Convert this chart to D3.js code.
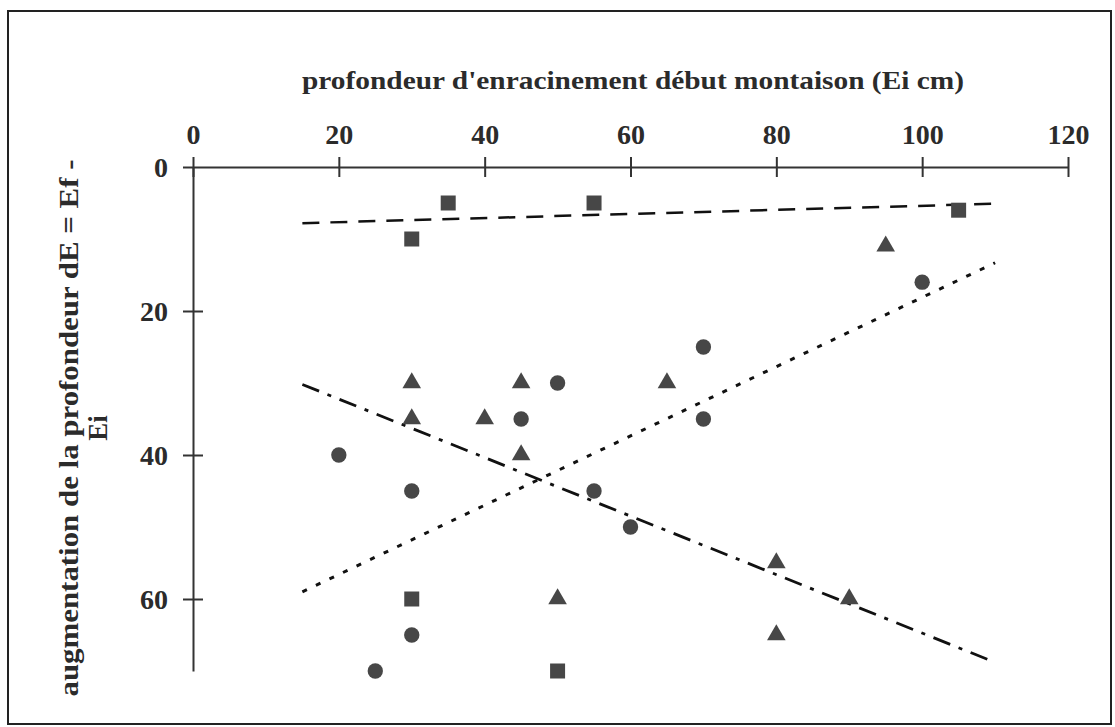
<!DOCTYPE html>
<html>
<head>
<meta charset="utf-8">
<script src="https://cdn.jsdelivr.net/npm/d3@7"></script>
<style>
  html, body { margin: 0; padding: 0; background: #fff; }
  svg { display: block; }
  text { font-family: "Liberation Serif", "DejaVu Serif", serif; font-weight: bold; fill: #2b2b2b; }
</style>
</head>
<body>
<script>
// ---- data ----
const xTicks = [0, 20, 40, 60, 80, 100, 120];
const yTicks = [0, 20, 40, 60];
const xTitle = "profondeur d'enracinement début montaison (Ei cm)";
const yTitle1 = "augmentation de la profondeur dE = Ef -";
const yTitle2 = "Ei";

const squaresX = [35, 55, 30, 105, 30, 50];
const squaresY = [5, 5, 10, 6, 60, 70];

const trianglesX = [95, 30, 45, 65, 30, 40, 45, 50, 80, 90, 80];
const trianglesY = [11, 30, 30, 30, 35, 35, 40, 60, 55, 60, 65];

const circlesX = [100, 70, 50, 45, 70, 20, 30, 55, 60, 30, 25];
const circlesY = [16, 25, 30, 35, 35, 40, 45, 45, 50, 65, 70];

// trend lines (endpoints)
const trendSquaresX = [15, 110];
const trendSquaresY = [7.8, 5.1];
const trendCirclesX = [15, 110];
const trendCirclesY = [59, 13.3];
const trendTrianglesX = [15, 110];
const trendTrianglesY = [30.2, 68.8];

// ---- chart ----
const W = 1115, H = 727;
const svg = d3.select("body").append("svg").attr("width", W).attr("height", H);

// frame
svg.append("rect").attr("x", 8).attr("y", 11).attr("width", 1103).attr("height", 713)
  .attr("fill", "none").attr("stroke", "#222").attr("stroke-width", 2);

const x = d3.scaleLinear().domain([0, 120]).range([193, 1068]);
const y = d3.scaleLinear().domain([0, 70]).range([167, 671]);

const axisColor = "#333";

// x axis (top)
const gx = svg.append("g").attr("transform", `translate(0,${y(0)})`)
  .call(d3.axisTop(x).tickValues(xTicks).tickSize(10).tickSizeOuter(0).tickPadding(14));
gx.select(".domain").attr("stroke", axisColor).attr("stroke-width", 2);
gx.selectAll(".tick line").attr("y1", 10).attr("stroke", axisColor).attr("stroke-width", 2);
gx.selectAll(".tick text").attr("y", -23).attr("dy", 0)
  .style("font-size", "28px").style("font-family", "Liberation Serif").style("font-weight", "bold")
  .attr("fill", "#2b2b2b");

// y axis (left)
const gy = svg.append("g").attr("transform", `translate(${x(0)},0)`)
  .call(d3.axisLeft(y).tickValues(yTicks).tickSize(10).tickSizeOuter(0).tickPadding(14));
gy.select(".domain").attr("stroke", axisColor).attr("stroke-width", 2);
gy.selectAll(".tick line").attr("x1", d => d === 0 ? 0 : 10).attr("stroke", axisColor).attr("stroke-width", 2);
gy.selectAll(".tick text").attr("x", -25).attr("dy", "0.34em")
  .style("font-size", "28px").style("font-family", "Liberation Serif").style("font-weight", "bold")
  .attr("fill", "#2b2b2b");

// titles
svg.append("text").attr("x", 633).attr("y", 89).attr("text-anchor", "middle")
  .style("font-size", "26px").attr("textLength", 662).attr("lengthAdjust", "spacingAndGlyphs")
  .text(xTitle);

svg.append("text").attr("transform", "translate(78,428) rotate(-90)").attr("text-anchor", "middle")
  .style("font-size", "27px").attr("textLength", 537).attr("lengthAdjust", "spacingAndGlyphs")
  .text(yTitle1);
svg.append("text").attr("transform", "translate(107,428) rotate(-90)").attr("text-anchor", "middle")
  .style("font-size", "27px")
  .text(yTitle2);

// trend lines
const line = d3.line().x(d => x(d[0])).y(d => y(d[1]));
function drawTrend(xs, ys, dash, width) {
  svg.append("path").datum(xs.map((v, i) => [v, ys[i]]))
    .attr("d", line).attr("fill", "none").attr("stroke", "#111")
    .attr("stroke-width", width).attr("stroke-dasharray", dash);
}
drawTrend(trendSquaresX, trendSquaresY, "17,11", 2.5);
drawTrend(trendCirclesX, trendCirclesY, "5,10", 3);
drawTrend(trendTrianglesX, trendTrianglesY, "18,9,4,9", 2.8);

// markers
const markColor = "#474747";
function drawMarks(xs, ys, type, size) {
  const sym = d3.symbol().type(type).size(size);
  svg.append("g").selectAll("path").data(xs.map((v, i) => [v, ys[i]])).join("path")
    .attr("transform", d => `translate(${x(d[0])},${y(d[1])})`)
    .attr("d", sym).attr("fill", markColor);
}
drawMarks(squaresX, squaresY, d3.symbolSquare, 225);
drawMarks(trianglesX, trianglesY, d3.symbolTriangle, 150);
drawMarks(circlesX, circlesY, d3.symbolCircle, 185);
</script>
</body>
</html>
